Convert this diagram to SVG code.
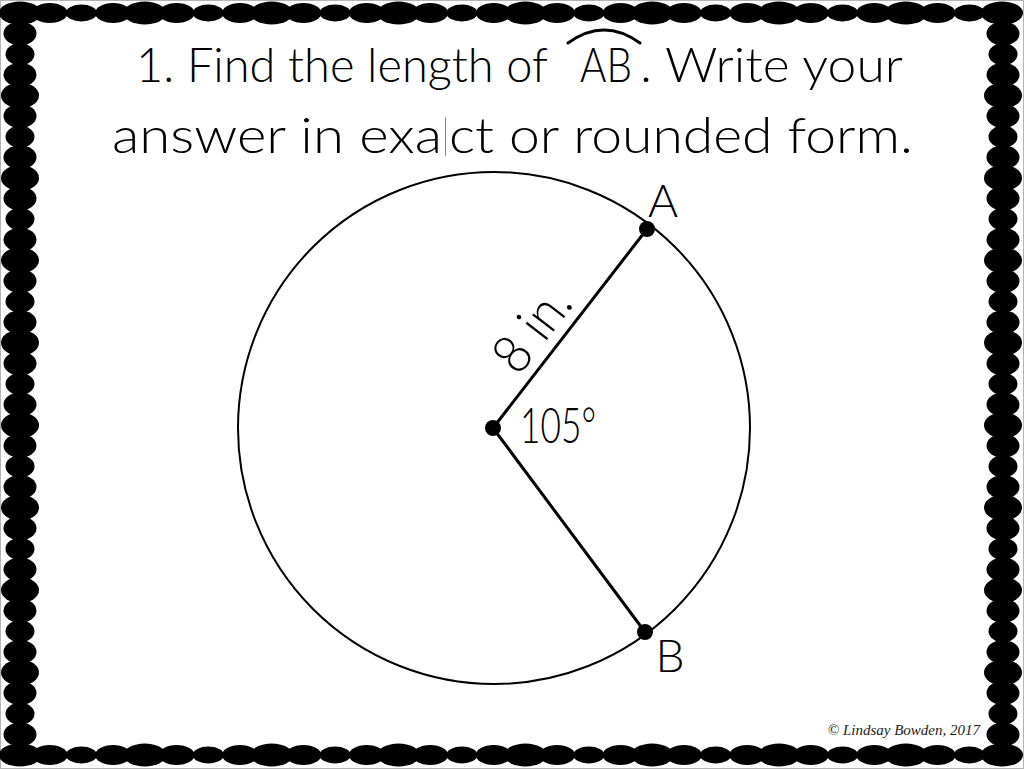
<svg xmlns="http://www.w3.org/2000/svg" xmlns:xlink="http://www.w3.org/1999/xlink" width="1024" height="769" viewBox="0 0 1024 769">
<style>
.hand{font-family:"Lato","Noto Sans","DejaVu Sans",sans-serif;font-weight:300;fill:#000}
.ln{stroke:#000;stroke-width:3;fill:none;stroke-linecap:round}
.dot{fill:#000}
</style>
<defs>
<ellipse id="L" rx="21" ry="11.5" fill="#000"/>
<ellipse id="M" rx="18" ry="10" fill="#000"/>
<ellipse id="S" rx="15.5" ry="8.5" fill="#000"/>
<ellipse id="VL" rx="19" ry="13" fill="#000"/>
<ellipse id="VM" rx="16.5" ry="12" fill="#000"/>
<ellipse id="VS" rx="14.5" ry="11" fill="#000"/>
</defs>
<rect x="0" y="0" width="1024" height="769" fill="#fff"/>
<rect x="0.5" y="0.5" width="1023" height="768" fill="none" stroke="#b4b4b4" stroke-width="1"/>
<g id="border">
<g id="top-row">
<use xlink:href="#M" x="49.7" y="13"/><use xlink:href="#S" x="81.4" y="13"/><use xlink:href="#M" x="113.1" y="13"/><use xlink:href="#L" x="144.8" y="13"/>
<use xlink:href="#M" x="176.6" y="13"/><use xlink:href="#S" x="208.3" y="13"/><use xlink:href="#M" x="240" y="13"/><use xlink:href="#L" x="271.7" y="13"/>
<use xlink:href="#M" x="303.4" y="13"/><use xlink:href="#S" x="335.1" y="13"/><use xlink:href="#M" x="366.8" y="13"/><use xlink:href="#L" x="398.5" y="13"/>
<use xlink:href="#M" x="430.2" y="13"/><use xlink:href="#S" x="461.9" y="13"/><use xlink:href="#M" x="493.7" y="13"/><use xlink:href="#L" x="525.4" y="13"/>
<use xlink:href="#M" x="557.1" y="13"/><use xlink:href="#S" x="588.8" y="13"/><use xlink:href="#M" x="620.5" y="13"/><use xlink:href="#L" x="652.2" y="13"/>
<use xlink:href="#M" x="683.9" y="13"/><use xlink:href="#S" x="715.6" y="13"/><use xlink:href="#M" x="747.3" y="13"/><use xlink:href="#L" x="779" y="13"/>
<use xlink:href="#M" x="810.8" y="13"/><use xlink:href="#S" x="842.5" y="13"/><use xlink:href="#M" x="874.2" y="13"/><use xlink:href="#L" x="905.9" y="13"/>
<use xlink:href="#M" x="937.6" y="13"/><use xlink:href="#S" x="969.3" y="13"/>
</g>
<g id="bottom-row">
<use xlink:href="#M" x="49.7" y="755"/><use xlink:href="#S" x="81.4" y="755"/><use xlink:href="#M" x="113.1" y="755"/><use xlink:href="#L" x="144.8" y="755"/>
<use xlink:href="#M" x="176.6" y="755"/><use xlink:href="#S" x="208.3" y="755"/><use xlink:href="#M" x="240" y="755"/><use xlink:href="#L" x="271.7" y="755"/>
<use xlink:href="#M" x="303.4" y="755"/><use xlink:href="#S" x="335.1" y="755"/><use xlink:href="#M" x="366.8" y="755"/><use xlink:href="#L" x="398.5" y="755"/>
<use xlink:href="#M" x="430.2" y="755"/><use xlink:href="#S" x="461.9" y="755"/><use xlink:href="#M" x="493.7" y="755"/><use xlink:href="#L" x="525.4" y="755"/>
<use xlink:href="#M" x="557.1" y="755"/><use xlink:href="#S" x="588.8" y="755"/><use xlink:href="#M" x="620.5" y="755"/><use xlink:href="#L" x="652.2" y="755"/>
<use xlink:href="#M" x="683.9" y="755"/><use xlink:href="#S" x="715.6" y="755"/><use xlink:href="#M" x="747.3" y="755"/><use xlink:href="#L" x="779" y="755"/>
<use xlink:href="#M" x="810.8" y="755"/><use xlink:href="#S" x="842.5" y="755"/><use xlink:href="#M" x="874.2" y="755"/><use xlink:href="#L" x="905.9" y="755"/>
<use xlink:href="#M" x="937.6" y="755"/><use xlink:href="#S" x="969.3" y="755"/>
</g>
<g id="left-col">
<use xlink:href="#VM" x="20" y="33.6"/><use xlink:href="#VS" x="20" y="54.2"/><use xlink:href="#VM" x="20" y="74.8"/><use xlink:href="#VL" x="20" y="95.4"/>
<use xlink:href="#VM" x="20" y="116.1"/><use xlink:href="#VS" x="20" y="136.7"/><use xlink:href="#VM" x="20" y="157.3"/><use xlink:href="#VL" x="20" y="177.9"/>
<use xlink:href="#VM" x="20" y="198.5"/><use xlink:href="#VS" x="20" y="219.1"/><use xlink:href="#VM" x="20" y="239.7"/><use xlink:href="#VL" x="20" y="260.3"/>
<use xlink:href="#VM" x="20" y="280.9"/><use xlink:href="#VS" x="20" y="301.5"/><use xlink:href="#VM" x="20" y="322.2"/><use xlink:href="#VL" x="20" y="342.8"/>
<use xlink:href="#VM" x="20" y="363.4"/><use xlink:href="#VS" x="20" y="384"/><use xlink:href="#VM" x="20" y="404.6"/><use xlink:href="#VL" x="20" y="425.2"/>
<use xlink:href="#VM" x="20" y="445.8"/><use xlink:href="#VS" x="20" y="466.4"/><use xlink:href="#VM" x="20" y="487"/><use xlink:href="#VL" x="20" y="507.6"/>
<use xlink:href="#VM" x="20" y="528.3"/><use xlink:href="#VS" x="20" y="548.9"/><use xlink:href="#VM" x="20" y="569.5"/><use xlink:href="#VL" x="20" y="590.1"/>
<use xlink:href="#VM" x="20" y="610.7"/><use xlink:href="#VS" x="20" y="631.3"/><use xlink:href="#VM" x="20" y="651.9"/><use xlink:href="#VL" x="20" y="672.5"/>
<use xlink:href="#VM" x="20" y="693.1"/><use xlink:href="#VS" x="20" y="713.7"/><use xlink:href="#VM" x="20" y="734.4"/>
</g>
<g id="right-col">
<use xlink:href="#VM" x="1003" y="33.6"/><use xlink:href="#VS" x="1003" y="54.2"/><use xlink:href="#VM" x="1003" y="74.8"/><use xlink:href="#VL" x="1003" y="95.4"/>
<use xlink:href="#VM" x="1003" y="116.1"/><use xlink:href="#VS" x="1003" y="136.7"/><use xlink:href="#VM" x="1003" y="157.3"/><use xlink:href="#VL" x="1003" y="177.9"/>
<use xlink:href="#VM" x="1003" y="198.5"/><use xlink:href="#VS" x="1003" y="219.1"/><use xlink:href="#VM" x="1003" y="239.7"/><use xlink:href="#VL" x="1003" y="260.3"/>
<use xlink:href="#VM" x="1003" y="280.9"/><use xlink:href="#VS" x="1003" y="301.5"/><use xlink:href="#VM" x="1003" y="322.2"/><use xlink:href="#VL" x="1003" y="342.8"/>
<use xlink:href="#VM" x="1003" y="363.4"/><use xlink:href="#VS" x="1003" y="384"/><use xlink:href="#VM" x="1003" y="404.6"/><use xlink:href="#VL" x="1003" y="425.2"/>
<use xlink:href="#VM" x="1003" y="445.8"/><use xlink:href="#VS" x="1003" y="466.4"/><use xlink:href="#VM" x="1003" y="487"/><use xlink:href="#VL" x="1003" y="507.6"/>
<use xlink:href="#VM" x="1003" y="528.3"/><use xlink:href="#VS" x="1003" y="548.9"/><use xlink:href="#VM" x="1003" y="569.5"/><use xlink:href="#VL" x="1003" y="590.1"/>
<use xlink:href="#VM" x="1003" y="610.7"/><use xlink:href="#VS" x="1003" y="631.3"/><use xlink:href="#VM" x="1003" y="651.9"/><use xlink:href="#VL" x="1003" y="672.5"/>
<use xlink:href="#VM" x="1003" y="693.1"/><use xlink:href="#VS" x="1003" y="713.7"/><use xlink:href="#VM" x="1003" y="734.4"/>
</g>
<g id="corners">
<use xlink:href="#L" x="20" y="13"/><use xlink:href="#L" x="1002" y="13"/>
<use xlink:href="#L" x="20" y="755"/><use xlink:href="#L" x="1002" y="755"/>
</g>
</g>
<g id="title">
<text class="hand" font-size="48" x="136" y="82" textLength="412" lengthAdjust="spacingAndGlyphs">1. Find the length of</text>
<text class="hand" font-size="48" x="580" y="82" textLength="52" lengthAdjust="spacingAndGlyphs">AB</text>
<text class="hand" font-size="48" x="640" y="82" textLength="263" lengthAdjust="spacingAndGlyphs">. Write your</text>
<path d="M 568 43 Q 604 17 640 43" class="ln" stroke-width="2.5"/>
<text class="hand" font-size="50" x="112" y="153" textLength="330" lengthAdjust="spacingAndGlyphs">answer in exa</text>
<text class="hand" font-size="50" x="449" y="153" textLength="464" lengthAdjust="spacingAndGlyphs">ct or rounded form.</text>
<line x1="445.5" y1="117" x2="445.5" y2="156" stroke="#8a8a8a" stroke-width="1"/>
</g>
<g id="circle">
<circle cx="494" cy="428" r="256" fill="none" stroke="#000" stroke-width="2"/>
</g>
<g id="connectors">
<line x1="493" y1="428" x2="647" y2="229" class="ln"/>
<line x1="493" y1="428" x2="645" y2="632" class="ln"/>
</g>
<g id="center-O"><circle cx="493" cy="428" r="8" class="dot"/></g>
<g id="point-A"><circle cx="647" cy="229" r="8" class="dot"/><text class="hand" font-size="46" x="663" y="217" text-anchor="middle">A</text></g>
<g id="point-B"><circle cx="645" cy="632" r="8" class="dot"/><text class="hand" font-size="46" x="670" y="672" text-anchor="middle">B</text></g>
<g id="labels">
<text class="hand" font-size="54" transform="translate(518.5,376.9) rotate(-52.4)" textLength="92" lengthAdjust="spacingAndGlyphs">8 in.</text>
<text class="hand" font-size="50" x="520" y="443" textLength="76" lengthAdjust="spacingAndGlyphs">105°</text>
</g>
<text x="980" y="735" text-anchor="end" font-family="'Liberation Serif',serif" font-style="italic" font-size="15" fill="#222">© Lindsay Bowden, 2017</text>
</svg>
